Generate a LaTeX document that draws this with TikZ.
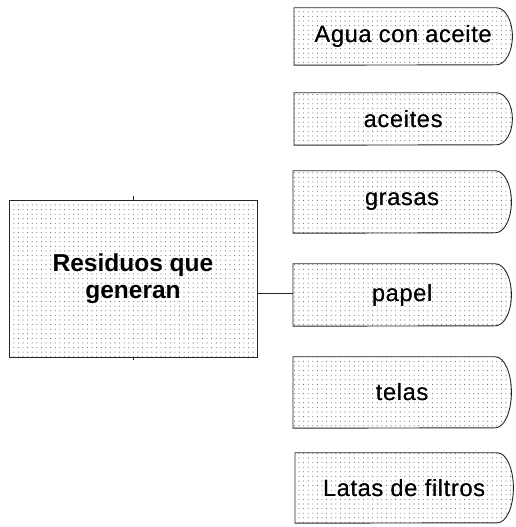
\documentclass[tikz,border=0pt]{standalone}
\usepackage{fontspec}
\setmainfont{Liberation Sans}
\usetikzlibrary{patterns.meta}
\tikzdeclarepattern{
  name=dotgrid,
  type=uncolored,
  bounding box={(-0.7pt,-0.7pt) and (0.7pt,0.7pt)},
  tile size={(4.6pt,4.6pt)},
  code={\fill (0pt,0pt) circle[radius=0.55pt];}
}
\tikzset{
  dotfill/.style={pattern=dotgrid, pattern color=black!60},
  outline/.style={draw=black!85, line width=0.9pt},
  lbl/.style={font=\fontsize{23.5}{30}\selectfont\addfontfeature{LetterSpace=3}, text=black},
  dnode/.style={lbl, draw=none, inner sep=0pt, minimum width=218pt, anchor=west},
  mainbox/.style={outline, dotfill, inner sep=0pt, minimum width=248pt, minimum height=157pt, align=center,
    font=\fontsize{24.5}{27}\selectfont\bfseries},
  conn/.style={draw=black!85, line width=0.9pt}
}
% #1 name, #2 left x, #3 top y, #4 bottom y, #5 text
\newcommand{\dshape}[5]{%
  \node[dnode, minimum height={#3-#4}] (#1) at (#2,{(#3+#4)/2}) {#5};
  \draw[outline, dotfill] (#1.north west) -- ([xshift=-16pt]#1.north east)
    arc[start angle=90, end angle=-90, x radius=16, y radius={(#3-#4)/2}]
    -- (#1.south west) -- cycle;
  \node[lbl] at (#1.center) {#5};
}
\begin{document}
\begin{tikzpicture}[x=1pt,y=1pt]
\useasboundingbox (0,0) rectangle (515,527);
\node[mainbox] (main) at (133,248.5) {Residuos que\\generan};
\draw[conn] (main.north) -- ++(0,4) coordinate (tickt);
\draw[conn] (main.south) -- ++(0,-3) coordinate (tickb);
\dshape{agua}{294}{519}{462}{Agua con aceite}
\dshape{aceites}{294}{434}{382}{aceites}
\dshape{grasas}{293}{356}{294}{grasas}
\dshape{papel}{293}{263}{201}{papel}
\dshape{telas}{293}{170}{99}{telas}
\dshape{latas}{295}{74}{4}{Latas de filtros}
\draw[conn] ([yshift=2pt]papel.west -| main.east) -- ([yshift=2pt]papel.west);
\end{tikzpicture}
\end{document}
